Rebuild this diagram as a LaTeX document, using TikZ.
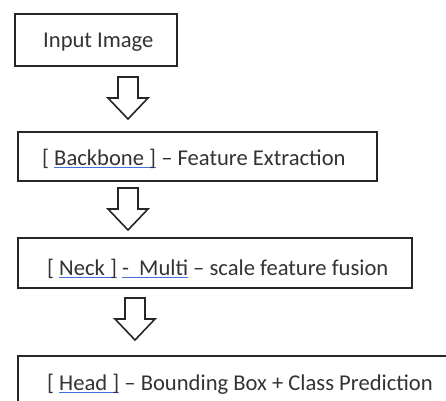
\documentclass[tikz,border=0pt]{standalone}
\usepackage{fontspec}
\setmainfont{Carlito}
\usepackage{xcolor}
\definecolor{squig}{RGB}{70,110,220}
% word underlined with a thin blue line
\newcommand{\squigword}[1]{\setbox0\hbox{#1}\rlap{\color{squig}\rule[-3pt]{\wd0}{0.9pt}}\box0\relax}
\tikzset{
  stagebox/.style={draw=black!85, line width=1.7pt, fill=white},
  stagetext/.style={anchor=base west, inner sep=0pt, text=black!80,
    font=\fontsize{22.6}{26}\selectfont},
  flowarrow/.style={draw=black!85, line width=1.6pt, fill=white, line join=miter},
}
% hollow down arrow: #1 = centre x, #2 = top y
\newcommand{\downblock}[2]{%
  \draw[flowarrow] (#1-10,#2) -- (#1+10,#2) -- (#1+10,#2+21) -- (#1+20,#2+21)
    -- (#1,#2+42) -- (#1-20,#2+21) -- (#1-10,#2+21) -- cycle;}
\begin{document}
\begin{tikzpicture}[x=1pt,y=-1pt]
\useasboundingbox (0,0) rectangle (446,400);
\clip (0,0) rectangle (446,400);

% stage boxes
\draw[stagebox] (15,14) rectangle (177,66);
\node[stagetext] (input) at (43,47) {Input Image};

\draw[stagebox] (18,132) rectangle (377,181);
\node[stagetext] (backbone) at (42,165) {[ \squigword{Backbone ]} – Feature Extraction};

\draw[stagebox] (18,238) rectangle (412,288);
\node[stagetext] (neck) at (47,275) {[ \squigword{Neck ]} \squigword{-\ \ Multi} – scale feature fusion};

\draw[stagebox] (18,356) rectangle (460,420);
\node[stagetext] (head) at (47,390) {[ \squigword{Head ]} – Bounding Box + Class Prediction};

% block arrows between stages
\downblock{128}{77}
\downblock{128}{188}
\downblock{135}{298}
\end{tikzpicture}
\end{document}
